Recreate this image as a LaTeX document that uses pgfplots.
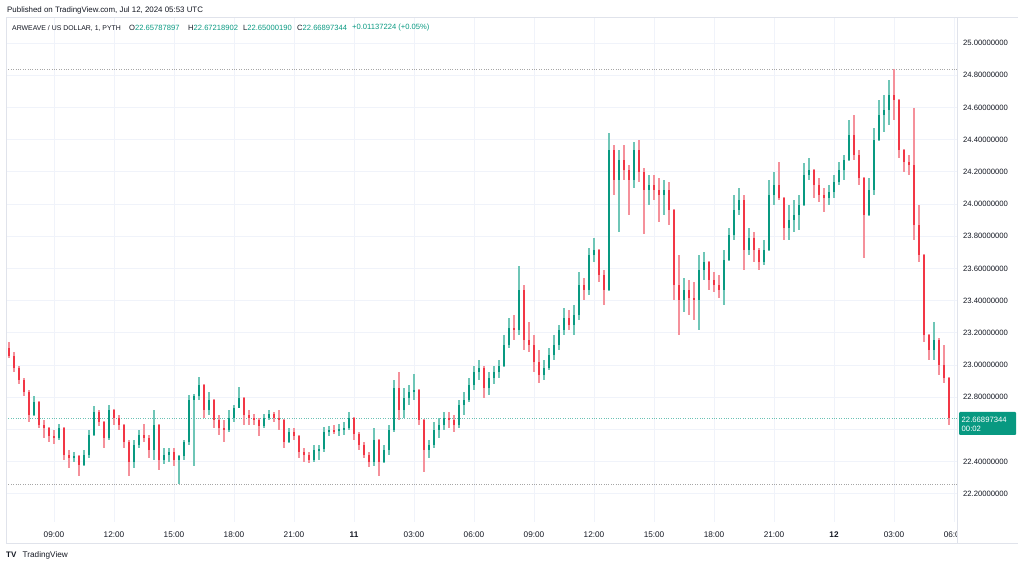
\documentclass[border=0pt]{standalone}
\usepackage{pgfplots}
\pgfplotsset{compat=1.18}
\usepackage{pgfplotstable}
\usepackage{fontspec}
\setmainfont{Liberation Sans}

\definecolor{up}{HTML}{089981}
\definecolor{dn}{HTML}{F23645}
\definecolor{upw}{HTML}{6FC6B7}
\definecolor{dnw}{HTML}{F5919B}
\definecolor{txt}{HTML}{131722}
\definecolor{gridc}{HTML}{F0F3FA}
\definecolor{brd}{HTML}{E0E3EB}

% 15-minute candles, hours since Jul 10 00:00 UTC
\pgfplotstableread{
t o h l c
6.75 23.106 23.143 23.044 23.056
7.00 23.056 23.081 22.956 22.981
7.25 22.981 22.994 22.882 22.907
7.50 22.907 22.919 22.807 22.832
7.75 22.832 22.845 22.646 22.689
8.00 22.689 22.807 22.685 22.770
8.25 22.770 22.775 22.609 22.627
8.50 22.627 22.658 22.547 22.609
8.75 22.609 22.615 22.522 22.559
9.00 22.559 22.596 22.509 22.547
9.25 22.547 22.634 22.534 22.609
9.50 22.609 22.615 22.410 22.441
9.75 22.441 22.472 22.360 22.422
10.00 22.422 22.460 22.397 22.435
10.25 22.435 22.441 22.311 22.379
10.50 22.379 22.472 22.373 22.441
10.75 22.441 22.596 22.422 22.565
11.00 22.565 22.745 22.560 22.708
11.25 22.708 22.720 22.621 22.646
11.50 22.646 22.650 22.484 22.547
11.75 22.547 22.752 22.534 22.720
12.00 22.720 22.728 22.627 22.671
12.25 22.671 22.689 22.596 22.627
12.50 22.627 22.632 22.484 22.522
12.75 22.522 22.534 22.311 22.397
13.00 22.397 22.534 22.360 22.503
13.25 22.503 22.596 22.484 22.565
13.50 22.565 22.634 22.522 22.547
13.75 22.547 22.565 22.422 22.472
14.00 22.472 22.720 22.410 22.627
14.25 22.627 22.632 22.348 22.410
14.50 22.410 22.484 22.385 22.441
14.75 22.441 22.484 22.397 22.460
15.00 22.460 22.484 22.373 22.410
15.25 22.410 22.441 22.261 22.436
15.50 22.436 22.534 22.410 22.522
15.75 22.522 22.814 22.503 22.783
16.00 22.783 22.820 22.373 22.805
16.25 22.805 22.926 22.783 22.876
16.50 22.876 22.880 22.671 22.720
16.75 22.720 22.832 22.689 22.783
17.00 22.783 22.790 22.609 22.658
17.25 22.658 22.689 22.565 22.609
17.50 22.609 22.658 22.522 22.596
17.75 22.596 22.720 22.584 22.671
18.00 22.671 22.752 22.646 22.733
18.25 22.733 22.863 22.730 22.795
18.50 22.795 22.800 22.627 22.689
18.75 22.689 22.720 22.627 22.671
19.00 22.671 22.696 22.627 22.658
19.25 22.658 22.671 22.559 22.621
19.50 22.621 22.696 22.609 22.671
19.75 22.671 22.720 22.658 22.696
20.00 22.696 22.708 22.646 22.671
20.25 22.671 22.720 22.596 22.658
20.50 22.658 22.662 22.484 22.522
20.75 22.522 22.609 22.515 22.584
21.00 22.584 22.609 22.534 22.559
21.25 22.559 22.565 22.422 22.460
21.50 22.460 22.484 22.397 22.441
21.75 22.441 22.460 22.391 22.410
22.00 22.410 22.503 22.397 22.472
22.25 22.472 22.503 22.410 22.478
22.50 22.478 22.615 22.460 22.584
22.75 22.584 22.621 22.559 22.596
23.00 22.596 22.627 22.571 22.590
23.25 22.590 22.634 22.559 22.602
23.50 22.602 22.646 22.565 22.609
23.75 22.609 22.708 22.596 22.671
24.00 22.671 22.675 22.534 22.571
24.25 22.571 22.584 22.472 22.503
24.50 22.503 22.522 22.422 22.441
24.75 22.441 22.460 22.366 22.397
25.00 22.397 22.609 22.373 22.534
25.25 22.534 22.540 22.311 22.397
25.50 22.397 22.503 22.390 22.472
25.75 22.472 22.627 22.441 22.596
26.00 22.596 22.907 22.584 22.857
26.25 22.857 22.956 22.658 22.720
26.50 22.720 22.857 22.671 22.795
26.75 22.795 22.876 22.752 22.832
27.00 22.832 22.944 22.783 22.845
27.25 22.845 22.850 22.627 22.658
27.50 22.658 22.665 22.335 22.472
27.75 22.472 22.534 22.422 22.503
28.00 22.503 22.646 22.484 22.596
28.25 22.596 22.671 22.547 22.627
28.50 22.627 22.708 22.596 22.671
28.75 22.671 22.708 22.609 22.658
29.00 22.658 22.689 22.584 22.627
29.25 22.627 22.783 22.609 22.752
29.50 22.752 22.832 22.689 22.783
29.75 22.783 22.919 22.770 22.876
30.00 22.876 22.994 22.845 22.956
30.25 22.956 23.031 22.907 22.981
30.50 22.981 22.994 22.795 22.857
30.75 22.857 22.956 22.814 22.919
31.00 22.919 22.994 22.882 22.956
31.25 22.956 23.031 22.919 22.994
31.50 22.994 23.186 22.990 23.124
31.75 23.124 23.292 23.106 23.230
32.00 23.230 23.311 23.155 23.217
32.25 23.217 23.615 23.186 23.466
32.50 23.466 23.497 23.093 23.155
32.75 23.155 23.267 23.081 23.124
33.00 23.124 23.186 22.956 23.019
33.25 23.019 23.093 22.888 22.938
33.50 22.938 23.031 22.907 22.981
33.75 22.981 23.106 22.969 23.062
34.00 23.062 23.186 23.031 23.124
34.25 23.124 23.248 23.093 23.217
34.50 23.217 23.354 23.186 23.292
34.75 23.292 23.342 23.217 23.248
35.00 23.248 23.373 23.186 23.311
35.25 23.311 23.578 23.280 23.497
35.50 23.497 23.540 23.404 23.466
35.75 23.466 23.727 23.435 23.683
36.00 23.683 23.789 23.640 23.714
36.25 23.714 23.720 23.516 23.559
36.50 23.559 23.590 23.373 23.466
36.75 23.466 24.441 23.460 24.335
37.00 24.335 24.366 24.056 24.149
37.25 24.149 24.335 23.826 24.273
37.50 24.273 24.366 24.149 24.211
37.75 24.211 24.242 23.932 24.149
38.00 24.149 24.385 24.099 24.335
38.25 24.335 24.398 24.137 24.199
38.50 24.199 24.224 23.814 24.087
38.75 24.087 24.180 23.994 24.118
39.00 24.118 24.180 24.025 24.087
39.25 24.087 24.161 23.888 24.056
39.50 24.056 24.149 23.932 24.087
39.75 24.087 24.137 23.870 23.963
40.00 23.963 23.970 23.404 23.497
40.25 23.497 23.683 23.186 23.404
40.50 23.404 23.540 23.329 23.466
40.75 23.466 23.528 23.311 23.416
41.00 23.416 23.516 23.280 23.404
41.25 23.404 23.683 23.217 23.590
41.50 23.590 23.702 23.528 23.640
41.75 23.640 23.645 23.466 23.528
42.00 23.528 23.578 23.453 23.497
42.25 23.497 23.559 23.416 23.466
42.50 23.466 23.714 23.373 23.652
42.75 23.652 23.851 23.645 23.807
43.00 23.807 24.056 23.776 23.963
43.25 23.963 24.099 23.932 24.025
43.50 24.025 24.056 23.590 23.714
43.75 23.714 23.851 23.683 23.789
44.00 23.789 23.826 23.640 23.714
44.25 23.714 23.727 23.590 23.640
44.50 23.640 23.776 23.621 23.714
44.75 23.714 24.149 23.705 24.056
45.00 24.056 24.199 23.994 24.118
45.25 24.118 24.261 24.025 24.035
45.50 24.035 24.045 23.776 23.851
45.75 23.851 23.994 23.776 23.901
46.00 23.901 24.025 23.826 23.932
46.25 23.932 24.056 23.839 23.994
46.50 23.994 24.255 23.990 24.180
46.75 24.180 24.286 24.149 24.211
47.00 24.211 24.215 24.037 24.118
47.25 24.118 24.161 24.012 24.056
47.50 24.056 24.099 23.950 24.037
47.75 24.037 24.118 23.994 24.075
48.00 24.075 24.180 24.037 24.137
48.25 24.137 24.261 24.118 24.211
48.50 24.211 24.304 24.149 24.273
48.75 24.273 24.522 24.268 24.429
49.00 24.429 24.553 24.273 24.304
49.25 24.304 24.335 24.118 24.161
49.50 24.161 24.165 23.665 23.932
49.75 23.932 24.161 23.925 24.087
50.00 24.087 24.472 24.056 24.398
50.25 24.398 24.646 24.390 24.553
50.50 24.553 24.677 24.447 24.584
50.75 24.584 24.770 24.491 24.677
51.00 24.677 24.838 24.522 24.646
51.25 24.646 24.650 24.286 24.335
51.50 24.335 24.340 24.199 24.261
51.75 24.261 24.304 24.180 24.242
52.00 24.242 24.596 23.776 23.870
52.25 23.870 23.994 23.640 23.683
52.50 23.683 23.690 23.143 23.186
52.75 23.186 23.192 23.031 23.093
53.00 23.093 23.267 23.031 23.155
53.25 23.155 23.168 22.938 23.000
53.50 23.000 23.124 22.888 22.919
53.75 22.919 22.925 22.627 22.669
}\candles

\begin{document}
\begin{tikzpicture}
\begin{axis}[
    name=main, at={(0,0)}, anchor=south west,
    scale only axis, width=951pt, height=505pt,
    xmin=6.6, xmax=54.15, ymin=22.0248, ymax=25.1615,
    axis line style={draw=none},
    major tick length=0pt,
    grid=major,
    major grid style={draw=gridc, line width=0.8pt},
    xtick={9,12,15,18,21,24,27,30,33,36,39,42,45,48,51,54},
    xticklabels={09:00,12:00,15:00,18:00,21:00,\textbf{11},03:00,06:00,09:00,12:00,15:00,18:00,21:00,\textbf{12},03:00,06:00},
    ytick={22.2,22.4,22.8,23.0,23.2,23.4,23.6,23.8,24.0,24.2,24.4,24.6,24.8,25.0},
    extra y ticks={22.6}, extra y tick labels={},
    yticklabel pos=right,
    scaled y ticks=false,
    tick label style={font=\fontsize{7.7}{9}\selectfont, text=txt},
    xticklabel style={yshift=-6.5pt, font=\fontsize{8.2}{9}\selectfont},
    yticklabel style={anchor=west, xshift=2.5pt,
        /pgf/number format/fixed, /pgf/number format/fixed zerofill,
        /pgf/number format/precision=8, /pgf/number format/assume math mode=true},
]
% high / low / last price lines
\draw[black!35, line width=0.6pt, dash pattern=on 0.8pt off 1.6pt] (axis cs:6.6,24.838) -- (axis cs:54.15,24.838);
\draw[black!35, line width=0.6pt, dash pattern=on 0.8pt off 1.6pt] (axis cs:6.6,22.261) -- (axis cs:54.15,22.261);
\draw[up!60, line width=0.6pt, dash pattern=on 0.8pt off 1.6pt] (axis cs:6.6,22.669) -- (axis cs:54.15,22.669);

% wicks
\addplot[draw=none, mark=none, forget plot,
    restrict expr to domain={\thisrow{c}-\thisrow{o}}{0:10},
    error bars/.cd, y dir=both, y explicit, error mark=none,
    error bar style={draw=upw, line width=1.1pt}]
    table[x=t, y expr={(\thisrow{h}+\thisrow{l})/2}, y error expr={(\thisrow{h}-\thisrow{l})/2}] {\candles};
\addplot[draw=none, mark=none, forget plot,
    restrict expr to domain={\thisrow{c}-\thisrow{o}}{-10:-0.0001},
    error bars/.cd, y dir=both, y explicit, error mark=none,
    error bar style={draw=dnw, line width=1.1pt}]
    table[x=t, y expr={(\thisrow{h}+\thisrow{l})/2}, y error expr={(\thisrow{h}-\thisrow{l})/2}] {\candles};
% bodies
\addplot[draw=none, mark=none, forget plot,
    restrict expr to domain={\thisrow{c}-\thisrow{o}}{0:10},
    error bars/.cd, y dir=both, y explicit, error mark=none,
    error bar style={draw=up, line width=2.6pt}]
    table[x=t, y expr={(\thisrow{o}+\thisrow{c})/2}, y error expr={abs(\thisrow{c}-\thisrow{o})/2}] {\candles};
\addplot[draw=none, mark=none, forget plot,
    restrict expr to domain={\thisrow{c}-\thisrow{o}}{-10:-0.0001},
    error bars/.cd, y dir=both, y explicit, error mark=none,
    error bar style={draw=dn, line width=2.6pt}]
    table[x=t, y expr={(\thisrow{o}+\thisrow{c})/2}, y error expr={abs(\thisrow{c}-\thisrow{o})/2}] {\candles};
\end{axis}

% everything else in page pixels (origin at the page's lower left corner)
\begin{scope}[shift={(main.south west)}, xshift=-6pt, yshift=-45pt, x=1pt, y=1pt]
% frame and price-scale separator
\draw[brd, line width=0.8pt] (6,24) -- (6,550) -- (1018,550);
\draw[brd, line width=0.8pt] (6,24) -- (1018,24);
\fill[white] (957.4,24.5) rectangle (1017,44.5);
\draw[brd, line width=0.8pt] (957,24) -- (957,550);

% last price label
\fill[up, rounded corners=1pt] (959,132) rectangle (1016,155);
\node[anchor=west, inner sep=0pt, text=white, font=\fontsize{7.7}{9}\selectfont] at (961.5,147.5) {22.66897344};
\node[anchor=west, inner sep=0pt, text=white, font=\fontsize{7.7}{9}\selectfont] at (961.5,138.5) {00:02};

% header
\node[anchor=west, inner sep=0pt, text=txt, font=\fontsize{7.9}{9}\selectfont] at (7,557) {Published on TradingView.com, Jul 12, 2024 05:53 UTC};
\node[anchor=west, inner sep=0pt, text=txt, font=\fontsize{6.9}{9}\selectfont] at (12,539) {ARWEAVE / US DOLLAR, 1, PYTH};
\begin{scope}[every node/.style={anchor=west, inner sep=0pt, text=txt, font=\fontsize{7.6}{9}\selectfont}]
\node at (129,539) {O\textcolor{up}{22.65787897}};
\node at (188,539) {H\textcolor{up}{22.67218902}};
\node at (243,539) {L\textcolor{up}{22.65000190}};
\node at (297,539) {C\textcolor{up}{22.66897344}};
\node at (352,539) {\textcolor{up}{+0.01137224 (+0.05\%)}};
\end{scope}

% footer
\node[anchor=west, inner sep=0pt, text=txt, font=\bfseries\fontsize{8}{9}\selectfont] at (6,12) {TV};
\node[anchor=west, inner sep=0pt, text=txt, font=\fontsize{8.2}{9}\selectfont] at (22.5,12) {TradingView};

\pgfresetboundingbox
\path[use as bounding box] (0,0) rectangle (1024,567);
\end{scope}
\end{tikzpicture}
\end{document}
